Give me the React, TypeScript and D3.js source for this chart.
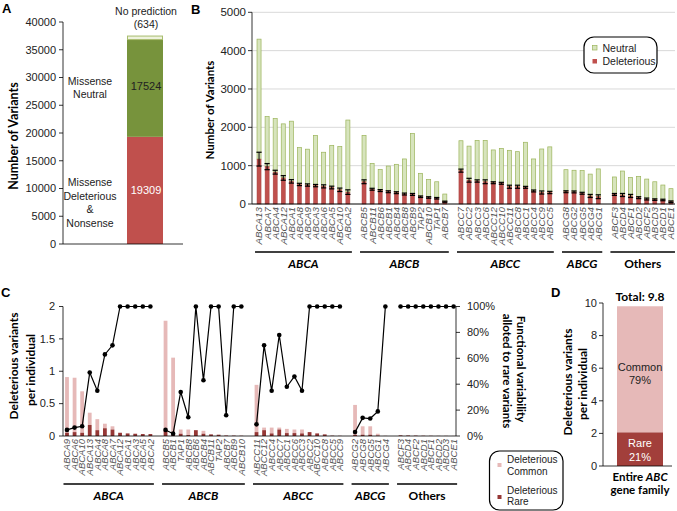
import React from 'react';
import * as d3 from 'd3';

// ---------- Panel A data ----------
const aCategories = ['Missense Deleterious & Nonsense', 'Missense Neutral', 'No prediction'];
const aValues = [19309, 17524, 634];
const aTicks = [0, 5000, 10000, 15000, 20000, 25000, 30000, 35000, 40000];

// ---------- Panel B data ----------
const groupNames = ['ABCA', 'ABCB', 'ABCC', 'ABCG', 'Others'];
const bGroupSizes = [12, 11, 12, 5, 8];
const bGenes = [
  'ABCA13', 'ABCA7', 'ABCA4', 'ABCA12', 'ABCA1', 'ABCA8', 'ABCA9', 'ABCA3', 'ABCA6', 'ABCA5', 'ABCA10', 'ABCA2',
  'ABCB5', 'ABCB11', 'ABCB6', 'ABCB1', 'ABCB4', 'ABCB8', 'ABCB9', 'TAP2', 'ABCB10', 'TAP1', 'ABCB7',
  'ABCC7', 'ABCC2', 'ABCC3', 'ABCC6', 'ABCC12', 'ABCC10', 'ABCC11', 'ABCC8', 'ABCC1', 'ABCC4', 'ABCC9', 'ABCC5',
  'ABCG8', 'ABCG2', 'ABCG5', 'ABCG4', 'ABCG1',
  'ABCF3', 'ABCD4', 'ABCF1', 'ABCD2', 'ABCF2', 'ABCD3', 'ABCD1', 'ABCE1',
];
const bTotal = [
  4300, 2280, 2230, 2090, 2160, 1470, 1430, 1790, 1350, 1530, 1500, 2190,
  1790, 1060, 900, 990, 1035, 1175, 1840, 800, 640, 580, 260,
  1650, 1510, 1660, 1660, 1410, 1450, 1400, 1365, 1610, 1175, 1435, 1490,
  895, 880, 870, 780, 915,
  705, 860, 695, 720, 650, 580, 495, 400,
];
const bDeleterious = [
  1170, 975, 830, 680, 590, 510, 495, 480, 460, 430, 370, 310,
  580, 385, 350, 320, 295, 260, 250, 190, 170, 150, 60,
  870, 620, 600, 580, 555, 540, 450, 450, 435, 340, 300, 300,
  320, 315, 280, 210, 190,
  250, 235, 210, 165, 130, 115, 105, 60,
];
const bError = [
  180, 80, 50, 60, 45, 30, 30, 30, 40, 35, 45, 60,
  50, 25, 25, 25, 25, 25, 25, 20, 20, 20, 15,
  40, 50, 30, 50, 25, 25, 40, 40, 25, 25, 40, 30,
  25, 25, 25, 40, 50,
  25, 40, 40, 25, 25, 20, 20, 20,
];
const bTicks = [0, 1000, 2000, 3000, 4000, 5000];
const bLegend = ['Neutral', 'Deleterious'];

// ---------- Panel C data ----------
const cGroupSizes = [12, 11, 12, 5, 8];
const cGenes = [
  'ABCA9', 'ABCA6', 'ABCA10', 'ABCA13', 'ABCA4', 'ABCA8', 'ABCA7', 'ABCA12', 'ABCA1', 'ABCA3', 'ABCA5', 'ABCA2',
  'ABCB5', 'ABCB1', 'TAP1', 'ABCB8', 'ABCB6', 'ABCB4', 'ABCB11', 'TAP2', 'ABCB7', 'ABCB9', 'ABCB10',
  'ABCC11', 'ABCC12', 'ABCC4', 'ABCC7', 'ABCC1', 'ABCC6', 'ABCC3', 'ABCC2', 'ABCC10', 'ABCC8', 'ABCC5', 'ABCC9',
  'ABCG2', 'ABCG8', 'ABCG5', 'ABCG1', 'ABCG4',
  'ABCF3', 'ABCD4', 'ABCF2', 'ABCD1', 'ABCF1', 'ABCD2', 'ABCD3', 'ABCE1',
];
const cRare = [
  0.05, 0.06, 0.05, 0.17, 0.09, 0.12, 0.10, 0.05, 0.04, 0.035, 0.03, 0.03,
  0.09, 0.02, 0.035, 0.015, 0.09, 0.035, 0.025, 0.02, 0.005, 0.006, 0.004,
  0.06, 0.09, 0.04, 0.10, 0.045, 0.045, 0.04, 0.06, 0.04, 0.025, 0.005, 0.003,
  0.015, 0.02, 0.02, 0.007, 0.002,
  0.01, 0.008, 0.006, 0.004, 0.003, 0.002, 0.002, 0.001,
];
const cCommon = [
  0.86, 0.84, 0.64, 0.19, 0.17, 0.07, 0.05, 0, 0, 0, 0, 0,
  1.69, 1.19, 0.065, 0.085, 0, 0.045, 0, 0, 0.01, 0, 0,
  0.73, 0.04, 0.09, 0.03, 0.065, 0.055, 0.06, 0, 0, 0, 0, 0,
  0.465, 0.13, 0.13, 0.028, 0,
  0, 0, 0, 0, 0, 0, 0, 0,
];
const cRarePct = [
  4.7, 6.5, 7.5, 49, 35, 63, 70, 100, 100, 100, 100, 100,
  4.7, 1.8, 34, 14.5, 100, 43, 100, 100, 16, 100, 100,
  9, 70, 35, 78, 38, 46, 35, 100, 100, 100, 100, 100,
  3, 14, 13.5, 19, 100,
  100, 100, 100, 100, 100, 100, 100, 100,
];
const cLeftTicks = [0, 0.5, 1, 1.5, 2];
const cRightTicks = [0, 20, 40, 60, 80, 100];
const cLegend = [['Deleterious', 'Common'], ['Deleterious', 'Rare']];

// ---------- Panel D data ----------
const dParts = ['Rare', 'Common'];
const dValues = [2.06, 7.74];
const dPercents = ['21%', '79%'];
const dTicks = [0, 2, 4, 6, 8, 10];

// ---------- Styles ----------
const SANS = "'Liberation Sans', Arial, Helvetica, sans-serif";
const TITLE = "Lato, 'Liberation Sans', Arial, sans-serif";
const RED = '#c0504d';
const RED_STROKE = '#a5423f';
const OLIVE = '#77933c';
const LIGHT_GREEN = '#d7e4bd';
const GREEN_STROKE = '#9bb45a';
const PINK = '#e6b9b8';
const DARK_RED = '#953735';

function buildSlots(sizes: number[]) {
  const keys: string[] = [];
  const geneSlot: string[] = [];
  sizes.forEach((s, gi) => {
    for (let i = 0; i < s; i++) {
      const k = 's' + keys.length;
      keys.push(k);
      geneSlot.push(k);
    }
    if (gi < sizes.length - 1) keys.push('gap' + gi);
  });
  return { keys, geneSlot };
}

function groupRanges(sizes: number[]) {
  const out: [number, number][] = [];
  let start = 0;
  sizes.forEach((s) => {
    out.push([start, start + s - 1]);
    start += s;
  });
  return out;
}

function VText(props: { x: number; y: number; children: any; rotate?: number; anchor?: string; size: number; weight?: any; style?: string; family?: string; fill?: string }) {
  const { x, y, children, rotate = -90, anchor = 'middle', size, weight = 'normal', style = 'normal', family = SANS, fill = '#000' } = props;
  return (
    <text
      transform={`translate(${x},${y}) rotate(${rotate})`}
      textAnchor={anchor as any}
      dy="0.35em"
      fontSize={size}
      fontWeight={weight}
      fontStyle={style}
      fontFamily={family}
      fill={fill}
    >
      {children}
    </text>
  );
}

export default function App() {
  // ---------- A ----------
  const yA = d3.scaleLinear().domain([0, 40000]).range([244, 22]);
  const xA = d3.scaleBand().domain(['all']).range([127, 163]).padding(0);
  const aX0 = xA('all') as number;
  const aW = xA.bandwidth();
  const aStack = [0, aValues[0], aValues[0] + aValues[1], aValues[0] + aValues[1] + aValues[2]];

  // ---------- B ----------
  const bSlots = buildSlots(bGroupSizes);
  const xB = d3.scaleBand().domain(bSlots.keys).range([255, 675]).paddingInner(0.5).paddingOuter(0.25);
  const yB = d3.scaleLinear().domain([0, 5000]).range([204, 12.3]);
  const bw = xB.bandwidth();
  const bCenter = (i: number) => (xB(bSlots.geneSlot[i]) as number) + bw / 2;
  const bGroups = groupRanges(bGroupSizes);

  // ---------- C ----------
  const cSlots = buildSlots(cGroupSizes);
  const xC = d3.scaleBand().domain(cSlots.keys).range([63.2, 457.4]).paddingInner(0.5).paddingOuter(0.25);
  const yC = d3.scaleLinear().domain([0, 2]).range([436, 306.5]);
  const yCR = d3.scaleLinear().domain([0, 100]).range([436, 306.5]);
  const cw = xC.bandwidth();
  const cCenter = (i: number) => (xC(cSlots.geneSlot[i]) as number) + cw / 2;
  const cGroups = groupRanges(cGroupSizes);
  const line = d3
    .line<number>()
    .x((i) => cCenter(i))
    .y((i) => yCR(cRarePct[i]));

  // ---------- D ----------
  const yD = d3.scaleLinear().domain([0, 10]).range([466, 303]);
  const xD = d3.scaleBand().domain(['family']).range([617, 663]).padding(0);
  const dX0 = xD('family') as number;
  const dW = xD.bandwidth();
  const dTotal = dValues[0] + dValues[1];

  return (
    <svg width={677} height={511} style={{ position: 'absolute', left: 0, top: 0, background: '#fff' }}>
      {/* ================= A ================= */}
      <text x={2} y={13} fontFamily={SANS} fontWeight="bold" fontSize={13}>A</text>
      <VText x={14} y={136} size={12.5} weight={700} family={TITLE}>Number of Variants</VText>
      <line x1={63} x2={63} y1={yA(40000)} y2={yA(0)} stroke="#000" strokeWidth={0.8} />
      {aTicks.map((t) => (
        <g key={'at' + t}>
          <line x1={59} x2={63} y1={yA(t)} y2={yA(t)} stroke="#000" strokeWidth={0.8} />
          <text x={56} y={yA(t)} dy="0.35em" textAnchor="end" fontFamily={SANS} fontSize={11} fill="#222">{t}</text>
        </g>
      ))}
      <rect x={aX0} y={yA(aStack[1])} width={aW} height={yA(aStack[0]) - yA(aStack[1])} fill={RED} />
      <rect x={aX0} y={yA(aStack[2])} width={aW} height={yA(aStack[1]) - yA(aStack[2])} fill={OLIVE} />
      <rect x={aX0 + 0.5} y={yA(aStack[3])} width={aW - 1} height={yA(aStack[2]) - yA(aStack[3])} fill="#eef2dc" stroke="#a8bd6e" strokeWidth={1} />
      <line x1={63} x2={183} y1={yA(0)} y2={yA(0)} stroke="#000" strokeWidth={0.8} />
      <text x={aX0 + aW / 2 + 1} y={yA((aStack[1] + aStack[2]) / 2) - 2} dy="0.35em" textAnchor="middle" fontFamily={SANS} fontSize={11} fill="#222">{aValues[1]}</text>
      <text x={aX0 + aW / 2 + 1} y={yA(aStack[1] / 2)} dy="0.35em" textAnchor="middle" fontFamily={SANS} fontSize={11} fill="#fff">{aValues[0]}</text>
      <text x={146} y={15} textAnchor="middle" fontFamily={SANS} fontSize={10.5} fill="#222">{aCategories[2]}</text>
      <text x={146} y={28} textAnchor="middle" fontFamily={SANS} fontSize={10.5} fill="#222">({aValues[2]})</text>
      <text x={90} y={85} textAnchor="middle" fontFamily={SANS} fontSize={10.5} fill="#222">Missense</text>
      <text x={90} y={98} textAnchor="middle" fontFamily={SANS} fontSize={10.5} fill="#222">Neutral</text>
      <text x={90} y={186} textAnchor="middle" fontFamily={SANS} fontSize={10.5} fill="#222">Missense</text>
      <text x={90} y={200} textAnchor="middle" fontFamily={SANS} fontSize={10.5} fill="#222">Deleterious</text>
      <text x={90} y={213} textAnchor="middle" fontFamily={SANS} fontSize={10.5} fill="#222">&amp;</text>
      <text x={90} y={227} textAnchor="middle" fontFamily={SANS} fontSize={10.5} fill="#222">Nonsense</text>

      {/* ================= B ================= */}
      <text x={191} y={14} fontFamily={SANS} fontWeight="bold" fontSize={13}>B</text>
      <VText x={210} y={110} size={11.5} weight={700} family={TITLE}>Number of Variants</VText>
      {bTicks.filter((t) => t > 0).map((t) => (
        <line key={'bg' + t} x1={252} x2={675} y1={yB(t)} y2={yB(t)} stroke="#d9d9d9" strokeWidth={1} />
      ))}
      {bTicks.map((t) => (
        <g key={'bt' + t}>
          <line x1={248} x2={252} y1={yB(t)} y2={yB(t)} stroke="#000" strokeWidth={0.8} />
          <text x={246} y={yB(t)} dy="0.35em" textAnchor="end" fontFamily={SANS} fontSize={11.5} fill="#222">{t}</text>
        </g>
      ))}
      <line x1={252} x2={252} y1={yB(5000)} y2={yB(0)} stroke="#000" strokeWidth={0.8} />
      {bGenes.map((g, i) => {
        const x = xB(bSlots.geneSlot[i]) as number;
        const c = bCenter(i);
        const del = bDeleterious[i];
        const err = bError[i];
        return (
          <g key={'bb' + i}>
            <rect x={x} y={yB(bTotal[i])} width={bw} height={yB(del) - yB(bTotal[i])} fill={LIGHT_GREEN} stroke={GREEN_STROKE} strokeWidth={0.7} />
            <rect x={x} y={yB(del)} width={bw} height={yB(0) - yB(del)} fill={RED} stroke={RED_STROKE} strokeWidth={0.5} />
            <line x1={c} x2={c} y1={yB(del + err)} y2={yB(del - err)} stroke="#000" strokeWidth={1} />
            <line x1={c - 2.6} x2={c + 2.6} y1={yB(del + err)} y2={yB(del + err)} stroke="#000" strokeWidth={1.2} />
            <line x1={c - 2.6} x2={c + 2.6} y1={yB(del - err)} y2={yB(del - err)} stroke="#000" strokeWidth={1.2} />
            <VText x={c} y={207} anchor="end" size={9.8} style="italic" fill="#555">{g}</VText>
          </g>
        );
      })}
      <line x1={252} x2={675} y1={yB(0)} y2={yB(0)} stroke="#000" strokeWidth={1} />
      {bGroups.map(([s, e], gi) => {
        const x1 = bCenter(s) - 4;
        const x2 = bCenter(e) + 4;
        return (
          <g key={'bgr' + gi}>
            <line x1={x1} x2={x2} y1={252} y2={252} stroke="#000" strokeWidth={1.5} />
            <text x={(x1 + x2) / 2} y={268} textAnchor="middle" fontFamily={TITLE} fontWeight={700} fontStyle={gi < 4 ? 'italic' : 'normal'} fontSize={12}>{groupNames[gi]}</text>
          </g>
        );
      })}
      {/* B legend */}
      <rect x={584} y={37} width={73} height={36} rx={10} ry={10} fill="#fff" stroke="#000" strokeWidth={1.2} />
      <rect x={592.5} y={45.5} width={4.5} height={4.5} fill={LIGHT_GREEN} stroke={GREEN_STROKE} strokeWidth={0.7} />
      <text x={602.5} y={51.5} fontFamily={SANS} fontSize={10.5} fill="#222">{bLegend[0]}</text>
      <rect x={592.5} y={59} width={4.5} height={4.5} fill={RED} />
      <text x={602.5} y={65} fontFamily={SANS} fontSize={10.5} fill="#222">{bLegend[1]}</text>

      {/* ================= C ================= */}
      <text x={1} y={297} fontFamily={SANS} fontWeight="bold" fontSize={13}>C</text>
      <VText x={14} y={366} size={12} weight={700} family={TITLE}>Deleterious variants</VText>
      <VText x={31} y={370} size={12} weight={700} family={TITLE}>per individual</VText>
      <VText x={521} y={369} rotate={90} size={11.5} weight={700} family={TITLE}>Functional variability</VText>
      <VText x={507} y={371} rotate={90} size={11.5} weight={700} family={TITLE}>alloted to rare variants</VText>
      <line x1={63} x2={63} y1={yC(2)} y2={yC(0)} stroke="#000" strokeWidth={0.8} />
      {cLeftTicks.map((t) => (
        <g key={'clt' + t}>
          <line x1={59} x2={63} y1={yC(t)} y2={yC(t)} stroke="#000" strokeWidth={0.8} />
          <text x={55} y={yC(t)} dy="0.35em" textAnchor="end" fontFamily={SANS} fontSize={11} fill="#222">{t}</text>
        </g>
      ))}
      <line x1={456} x2={456} y1={yCR(100)} y2={yCR(0)} stroke="#000" strokeWidth={0.8} />
      {cRightTicks.map((t) => (
        <g key={'crt' + t}>
          <line x1={456} x2={460} y1={yCR(t)} y2={yCR(t)} stroke="#000" strokeWidth={0.8} />
          <text x={467} y={yCR(t)} dy="0.35em" textAnchor="start" fontFamily={SANS} fontSize={11} fill="#222">{t}%</text>
        </g>
      ))}
      {cGenes.map((g, i) => {
        const x = xC(cSlots.geneSlot[i]) as number;
        const r = cRare[i];
        const cm = cCommon[i];
        return (
          <g key={'cb' + i}>
            <rect x={x} y={yC(r + cm)} width={cw} height={yC(r) - yC(r + cm)} fill={PINK} />
            <rect x={x} y={yC(r)} width={cw} height={yC(0) - yC(r)} fill={DARK_RED} />
            <VText x={cCenter(i)} y={439} anchor="end" size={9.5} style="italic" fill="#555">{g}</VText>
          </g>
        );
      })}
      <line x1={63} x2={456} y1={yC(0)} y2={yC(0)} stroke="#000" strokeWidth={0.8} />
      {cGroups.map(([s, e], gi) => {
        const idx = d3.range(s, e + 1);
        return (
          <g key={'cl' + gi}>
            <path d={line(idx) || ''} fill="none" stroke="#000" strokeWidth={1.2} />
            {idx.map((i) => (
              <circle key={'cd' + i} cx={cCenter(i)} cy={yCR(cRarePct[i])} r={2.3} fill="#000" />
            ))}
          </g>
        );
      })}
      {cGroups.map(([s, e], gi) => {
        const x1 = cCenter(s) - 3.5;
        const x2 = cCenter(e) + 3.5;
        return (
          <g key={'cgr' + gi}>
            <line x1={x1} x2={x2} y1={484} y2={484} stroke="#000" strokeWidth={1.5} />
            <text x={(x1 + x2) / 2} y={500} textAnchor="middle" fontFamily={TITLE} fontWeight={700} fontStyle={gi < 4 ? 'italic' : 'normal'} fontSize={12}>{groupNames[gi]}</text>
          </g>
        );
      })}
      {/* C legend */}
      <rect x={489.5} y={451} width={73.5} height={59} rx={10} ry={10} fill="#fff" stroke="#000" strokeWidth={1.2} />
      <rect x={497.5} y={463} width={4} height={4} fill={PINK} />
      <text x={507} y={463} fontFamily={SANS} fontSize={10} fill="#222">{cLegend[0][0]}</text>
      <text x={507} y={474.5} fontFamily={SANS} fontSize={10} fill="#222">{cLegend[0][1]}</text>
      <rect x={497.5} y={495} width={4} height={4} fill={DARK_RED} />
      <text x={507} y={494} fontFamily={SANS} fontSize={10} fill="#222">{cLegend[1][0]}</text>
      <text x={507} y={505} fontFamily={SANS} fontSize={10} fill="#222">{cLegend[1][1]}</text>

      {/* ================= D ================= */}
      <text x={551} y={297} fontFamily={SANS} fontWeight="bold" fontSize={13}>D</text>
      <VText x={568} y={382} size={12} weight={700} family={TITLE}>Deleterious variants</VText>
      <VText x={583} y={384} size={12} weight={700} family={TITLE}>per individual</VText>
      <line x1={603} x2={603} y1={yD(10)} y2={yD(0)} stroke="#000" strokeWidth={0.8} />
      {dTicks.map((t) => (
        <g key={'dt' + t}>
          <line x1={599} x2={603} y1={yD(t)} y2={yD(t)} stroke="#000" strokeWidth={0.8} />
          <text x={597} y={yD(t)} dy="0.35em" textAnchor="end" fontFamily={SANS} fontSize={11} fill="#222">{t}</text>
        </g>
      ))}
      <rect x={dX0} y={yD(dTotal)} width={dW} height={yD(dValues[0]) - yD(dTotal)} fill={PINK} />
      <rect x={dX0} y={yD(dValues[0])} width={dW} height={yD(0) - yD(dValues[0])} fill={'#a23f3b'} />
      <line x1={603} x2={672} y1={yD(0)} y2={yD(0)} stroke="#000" strokeWidth={0.8} />
      <text x={dX0 + dW / 2} y={301} textAnchor="middle" fontFamily={TITLE} fontWeight={700} fontSize={12}>Total: {dTotal.toFixed(1)}</text>
      <text x={dX0 + dW / 2} y={371} textAnchor="middle" fontFamily={SANS} fontSize={11} fill="#222">{dParts[1]}</text>
      <text x={dX0 + dW / 2} y={384} textAnchor="middle" fontFamily={SANS} fontSize={11} fill="#222">{dPercents[1]}</text>
      <text x={dX0 + dW / 2} y={447} textAnchor="middle" fontFamily={SANS} fontSize={11} fill="#fff">{dParts[0]}</text>
      <text x={dX0 + dW / 2} y={461} textAnchor="middle" fontFamily={SANS} fontSize={11} fill="#fff">{dPercents[0]}</text>
      <text x={dX0 + dW / 2} y={481} textAnchor="middle" fontFamily={TITLE} fontWeight={700} fontSize={11.5}>
        Entire <tspan fontStyle="italic">ABC</tspan>
      </text>
      <text x={dX0 + dW / 2} y={494} textAnchor="middle" fontFamily={TITLE} fontWeight={700} fontSize={11.5}>gene family</text>
    </svg>
  );
}
